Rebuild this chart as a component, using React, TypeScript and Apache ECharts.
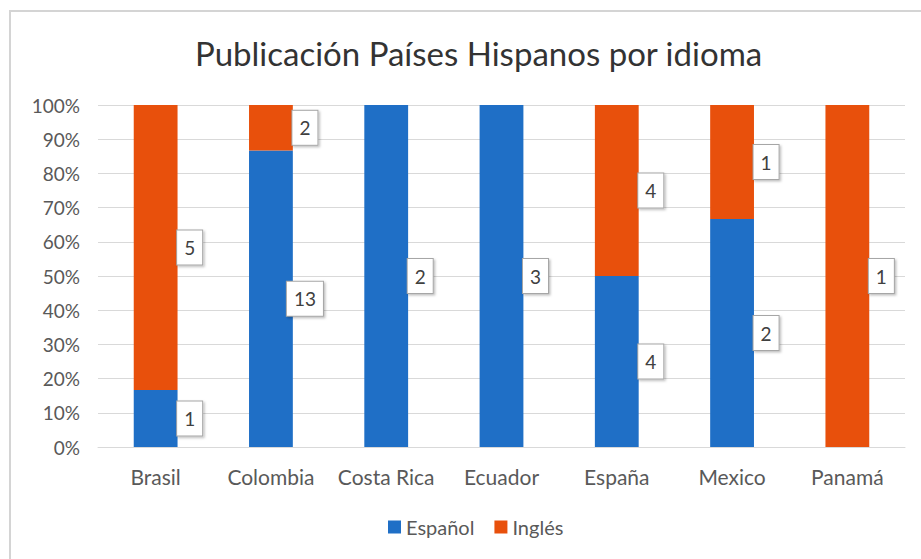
import React, { useEffect, useRef } from "react";
import * as echarts from "echarts";

const categories = ["Brasil", "Colombia", "Costa Rica", "Ecuador", "España", "Mexico", "Panamá"];
const espanol = [1, 13, 2, 3, 4, 2, 0];
const ingles = [5, 2, 0, 0, 4, 1, 1];
const seriesNames = ["Español", "Inglés"];
const colors = ["#1F6FC6", "#E8500C"];

export default function App() {
  const ref = useRef<HTMLDivElement>(null);
  useEffect(() => {
    if (!ref.current) return;
    const chart = echarts.init(ref.current, null, { renderer: "svg" });
    const totals = categories.map((_, i) => espanol[i] + ingles[i]);
    const mk = (arr: number[]) =>
      arr.map((v, i) => ({
        value: totals[i] ? (v / totals[i]) * 100 : 0,
        raw: v,
        label: { show: v > 0 },
      }));
    const font = "Lato, 'Open Sans', sans-serif";
    const labelStyle = {
      show: true,
      position: "inside",
      offset: [34, 0],
      formatter: (p: any) => String(p.data.raw),
      backgroundColor: "#ffffff",
      borderColor: "#a6a6a6",
      borderWidth: 1,
      padding: [8, 7, 7, 7],
      fontSize: 19,
      color: "#404040",
      fontFamily: font,
      shadowColor: "rgba(0,0,0,0.25)",
      shadowBlur: 2,
      shadowOffsetX: 1.5,
      shadowOffsetY: 1.5,
    };
    chart.setOption({
      animation: false,
      color: colors,
      textStyle: { fontFamily: font },
      title: {
        text: "Publicación Países Hispanos por idioma",
        left: 190,
        top: 31,
        textStyle: { fontSize: 33, fontWeight: "normal", color: "#333333", fontFamily: font },
      },
      legend: {
        bottom: 17,
        left: 383,
        itemWidth: 13,
        itemHeight: 13,
        itemGap: 20,
        icon: "rect",
        textStyle: { fontSize: 20, color: "#595959", fontFamily: font },
        data: seriesNames,
      },
      graphic: [
        {
          type: "rect",
          shape: { x: 10, y: 11, width: 930, height: 560 },
          style: { fill: "none", stroke: "#d4d4d4", lineWidth: 2 },
          silent: true,
        },
      ],
      grid: { left: 98, right: 16, top: 105, bottom: 112, containLabel: false },
      xAxis: {
        type: "category",
        data: categories,
        axisTick: { show: false },
        axisLine: { lineStyle: { color: "#d9d9d9" } },
        axisLabel: { interval: 0, fontSize: 21, color: "#595959", margin: 19, fontFamily: font },
      },
      yAxis: {
        type: "value",
        min: 0,
        max: 100,
        interval: 10,
        axisLabel: { formatter: "{value}%", fontSize: 19, color: "#595959", margin: 18, fontFamily: font },
        splitLine: { lineStyle: { color: "#d9d9d9" } },
        axisLine: { show: false },
        axisTick: { show: false },
      },
      series: [
        {
          name: seriesNames[0],
          type: "bar",
          stack: "total",
          barWidth: "38%",
          data: mk(espanol),
          label: labelStyle,
        },
        {
          name: seriesNames[1],
          type: "bar",
          stack: "total",
          barWidth: "38%",
          data: mk(ingles),
          label: labelStyle,
        },
      ],
    });
    return () => chart.dispose();
  }, []);
  return (
    <div
      ref={ref}
      style={{ position: "fixed", left: 0, top: 0, width: 921, height: 559, background: "#fff" }}
    />
  );
}
